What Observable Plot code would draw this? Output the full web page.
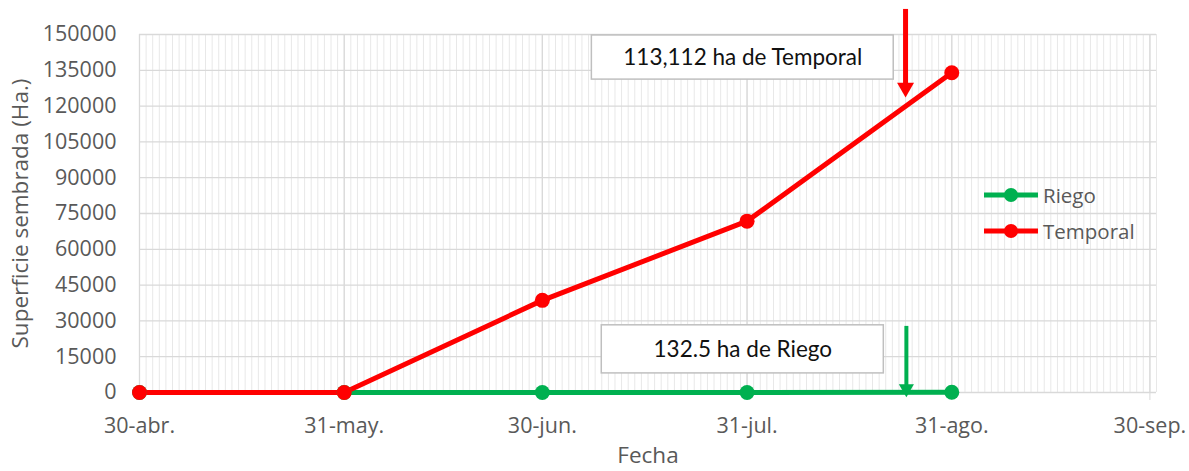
<!DOCTYPE html>
<html><head><meta charset="utf-8">
<script src="https://cdn.jsdelivr.net/npm/d3@7"></script>
<script src="https://cdn.jsdelivr.net/npm/@observablehq/plot@0.6"></script>
<style>
body{margin:0;background:#fff;}
#chart{position:relative;width:1189px;height:471px;font-family:"Open Sans",sans-serif;}
#legend{position:absolute;left:983px;top:177px;font-size:20.5px;color:#595959;font-family:"Open Sans",sans-serif;}
#legend .row{display:flex;align-items:center;height:36px;}
#legend svg{margin-right:4px;}
</style></head><body>
<div id="chart"><div id="legend"></div></div>
<script>
// ---- data ----
const dates = ["2021-04-30","2021-05-31","2021-06-30","2021-07-31","2021-08-31"];
const riego = [0, 0, 0, 0, 132.5];
const temporal = [0, 0, 38600, 71800, 134000];
const seriesNames = ["Riego", "Temporal"];
const seriesColors = ["#00B050", "#FF0000"];
const tickDates = ["2021-04-30","2021-05-31","2021-06-30","2021-07-31","2021-08-31","2021-09-30"];
const tickLabels = ["30-abr.","31-may.","30-jun.","31-jul.","31-ago.","30-sep."];
const yTicks = [0,15000,30000,45000,60000,75000,90000,105000,120000,135000,150000];
const xDomain = ["2021-04-30","2021-10-01"];
const yLabel = "Superficie sembrada (Ha.)";
const xLabel = "Fecha";
// annotations (in data coordinates)
const boxes = [
  {text:"113,112 ha de Temporal", x1:"2021-07-07T12:00Z", x2:"2021-08-22T05:00Z", y1:131100, y2:149600},
  {text:"132.5 ha de Riego", x1:"2021-07-09T00:00Z", x2:"2021-08-20T17:00Z", y1:8000, y2:28150}
];
const redArrow = {x:"2021-08-24T00:00Z", yStart:160500, yEnd:126900, yTip:123500};
const greenArrow = {x:"2021-08-24T03:00Z", yStart:27700, yEnd:1700, yTip:-2100};

// ---- build ----
const P = s => new Date(s.length === 10 ? s + "T00:00Z" : s);
const rows = [];
dates.forEach((d,i) => rows.push({date:P(d), value:riego[i], s:seriesNames[0]}));
dates.forEach((d,i) => rows.push({date:P(d), value:temporal[i], s:seriesNames[1]}));
const ticksD = tickDates.map(P);
const labelMap = new Map(ticksD.map((d,i)=>[+d, tickLabels[i]]));
const days = d3.utcDay.range(P(xDomain[0]), d3.utcDay.offset(P(xDomain[1]),1));
const bx = boxes.map(b => ({...b, x1:P(b.x1), x2:P(b.x2), xm:new Date((+P(b.x1) + +P(b.x2))/2), ym:(b.y1+b.y2)/2}));
const arrowMarks = (a, color, w, r, off) => {
  const d = [{...a, x:P(a.x)}];
  return [
    Plot.ruleX(d, {x:"x", y1:"yStart", y2:"yEnd", stroke:color, strokeWidth:w}),
    Plot.dot(d, {x:"x", y:"yTip", symbol:"triangle", rotate:180, fill:color, stroke:"none", r:r, dy:-off})
  ];
};

const chart = Plot.plot({
  width:1189, height:471,
  marginLeft:139, marginRight:33, marginTop:34, marginBottom:79,
  style:{fontFamily:"Open Sans, sans-serif", fontSize:"21.5px", color:"#595959", background:"#fff", overflow:"visible"},
  x:{type:"utc", domain:xDomain.map(P)},
  y:{domain:[0,150000]},
  color:{domain:seriesNames, range:seriesColors},
  marks:[
    Plot.ruleX(days, {y1:0, y2:150000, stroke:"#e8e8e8", strokeWidth:1}),
    Plot.ruleY(yTicks, {stroke:"#d9d9d9", strokeWidth:1.3}),
    Plot.ruleX(ticksD, {y1:0, y2:150000, stroke:"#d9d9d9", strokeWidth:1.3}),
    Plot.axisX(ticksD, {tickSize:8, stroke:"#d9d9d9", tickPadding:17, tickFormat:d=>labelMap.get(+d), fill:"#595959", fontSize:21.5, label:null}),
    Plot.axisY(yTicks, {tickSize:0, tickPadding:23, tickFormat:d=>String(d), fill:"#595959", fontSize:21.5, label:null}),
    Plot.text([yLabel], {frameAnchor:"left", textAnchor:"middle", rotate:-90, dx:-119, fill:"#595959", fontSize:22.5}),
    Plot.text([xLabel], {frameAnchor:"bottom", dy:70, fill:"#595959", fontSize:22.5}),
    Plot.line(rows, {x:"date", y:"value", z:"s", stroke:"s", strokeWidth:5}),
    Plot.dot(rows, {x:"date", y:"value", fill:"s", r:7.5}),
    Plot.rect(bx, {x1:"x1", x2:"x2", y1:"y1", y2:"y2", fill:"white", stroke:"#bfbfbf", strokeWidth:1.5}),
    Plot.text(bx, {x:"xm", y:"ym", text:"text", fill:"#111", fontSize:22.5, fontFamily:"Lato, sans-serif"}),
    ...arrowMarks(redArrow, "#FF0000", 5, 6.3, 10),
    ...arrowMarks(greenArrow, "#00B050", 4, 5.6, 9)
  ]
});
document.getElementById("chart").prepend(chart);

// legend
const lg = document.getElementById("legend");
seriesNames.forEach((n,i)=>{
  const row = document.createElement("div"); row.className="row";
  row.innerHTML = `<svg width="56" height="16"><line x1="1" x2="55" y1="8" y2="8" stroke="${seriesColors[i]}" stroke-width="5"/><circle cx="28" cy="8" r="7" fill="${seriesColors[i]}"/></svg><span>${n}</span>`;
  lg.appendChild(row);
});
</script>
</body></html>
